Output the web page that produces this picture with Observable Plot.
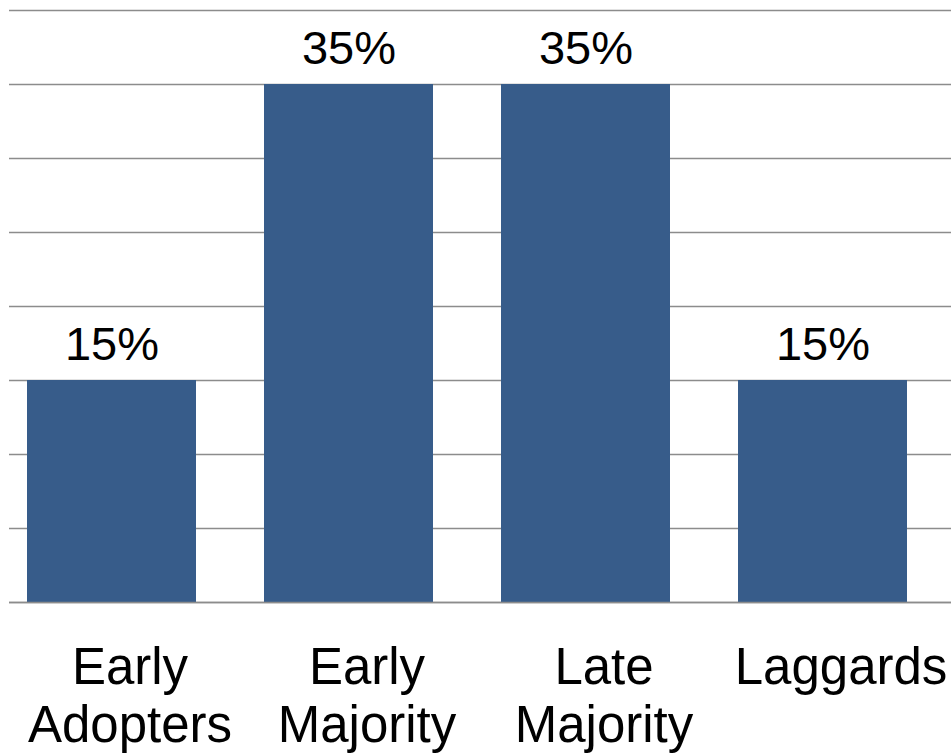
<!DOCTYPE html>
<html>
<head>
<meta charset="utf-8">
<script src="https://cdn.jsdelivr.net/npm/d3@7"></script>
<script src="https://cdn.jsdelivr.net/npm/@observablehq/plot@0.6"></script>
<style>
  html, body { margin: 0; padding: 0; background: #fff; }
  svg { display: block; }
</style>
</head>
<body>
<div id="chart"></div>
<script>
// Adopter groups and their share of the population (%)
const categories = ["Early Adopters", "Early Majority", "Late Majority", "Laggards"];
const shares = [15, 35, 35, 15];
const valueLabels = ["15%", "35%", "35%", "15%"];
// Horizontal gridlines every 5%
const gridTicks = [0, 5, 10, 15, 20, 25, 30, 35, 40];

const data = categories.map((category, i) => ({
  category,
  share: shares[i],
  label: valueLabels[i]
}));

const chart = Plot.plot({
  width: 951,
  height: 756,
  marginTop: 10,
  marginBottom: 154,
  marginLeft: 9,
  marginRight: 0,
  style: {
    fontFamily: '"Liberation Sans", Arial, Helvetica, sans-serif',
    color: "#000",
    background: "#fff"
  },
  x: {
    type: "band",
    domain: categories,
    range: [26, 907.7],
    paddingInner: 0.286,
    paddingOuter: 0,
    axis: null
  },
  y: { domain: [0, 40], axis: null },
  marks: [
    Plot.ruleY(gridTicks, { stroke: "#8c8c8c", strokeWidth: 1.6 }),
    Plot.barY(data, { x: "category", y: "share", fill: "#375c8a" }),
    Plot.ruleY([0], { stroke: "#8c8c8c", strokeWidth: 1.6 }),
    Plot.text(data, {
      x: "category",
      y: "share",
      text: "label",
      lineAnchor: "bottom",
      dy: -21,
      fontSize: 47,
      fill: "#000"
    }),
    Plot.axisX({
      label: null,
      tickSize: 0,
      tickPadding: 40,
      fontSize: 51,
      lineHeight: 1.14,
      dx: 18,
      fill: "#000",
      tickFormat: d => d.replace(" ", "\n")
    })
  ]
});

document.getElementById("chart").append(chart);
</script>
</body>
</html>
